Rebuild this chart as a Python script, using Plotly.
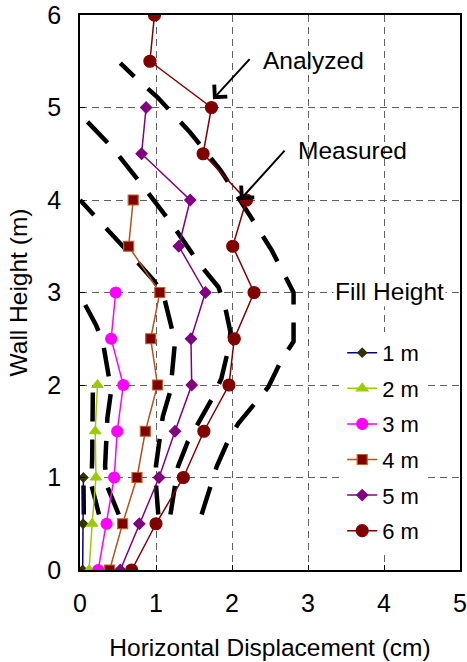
import plotly.graph_objects as go

# ---- Analyzed (lines + markers) ----
fill_labels = ["1 m", "2 m", "3 m", "4 m", "5 m", "6 m"]

h1 = [0, 0.5, 1.0]
x1 = [0.035, 0.04, 0.045]
h2 = [0, 0.5, 1.0, 1.5, 2.0]
x2 = [0.12, 0.16, 0.21, 0.20, 0.23]
h3 = [0, 0.5, 1.0, 1.5, 2.0, 2.5, 3.0]
x3 = [0.24, 0.35, 0.45, 0.49, 0.57, 0.41, 0.47]
h4 = [0, 0.5, 1.0, 1.5, 2.0, 2.5, 3.0, 3.5, 4.0]
x4 = [0.39, 0.56, 0.75, 0.86, 1.02, 0.93, 1.05, 0.64, 0.70]
h5 = [0, 0.5, 1.0, 1.5, 2.0, 2.5, 3.0, 3.5, 4.0, 4.5, 5.0]
x5 = [0.53, 0.78, 1.04, 1.25, 1.47, 1.46, 1.65, 1.30, 1.45, 0.81, 0.87]
h6 = [0, 0.5, 1.0, 1.5, 2.0, 2.5, 3.0, 3.5, 4.0, 4.5, 5.0, 5.5, 6.0]
x6 = [0.68, 1.00, 1.36, 1.63, 1.96, 2.03, 2.29, 2.01, 2.19, 1.62, 1.73, 0.92, 0.98]

# ---- Measured (thick dashed lines) ----
m1_y = [0.6, 0.92, 1.0]
m1_x = [0.05, 0.05, 0.045]
m2_y = [0.6, 0.92, 1.2, 1.6, 2.0]
m2_x = [0.25, 0.15, 0.16, 0.16, 0.17]
m3_y = [0.6, 0.9, 1.12, 1.64, 1.94, 2.47, 2.65, 2.97]
m3_x = [0.51, 0.36, 0.33, 0.36, 0.41, 0.30, 0.21, 0.0]
m4_y = [0.6, 0.92, 1.13, 1.66, 1.94, 2.16, 2.47, 2.97, 3.13, 3.38, 3.76, 4.0]
m4_x = [1.03, 1.00, 1.00, 1.09, 1.19, 1.22, 1.25, 1.10, 0.97, 0.70, 0.26, 0.0]
m5_y = [0.6, 0.92, 1.12, 1.39, 1.61, 1.87, 2.07, 2.38, 2.57, 2.88, 3.06, 3.31, 3.74, 4.16, 4.57, 4.93]
m5_x = [1.19, 1.25, 1.29, 1.42, 1.57, 1.75, 1.86, 1.95, 1.98, 1.90, 1.82, 1.57, 1.21, 0.82, 0.42, 0.0]
m6_y = [0.6, 0.92, 1.12, 1.40, 1.58, 1.82, 1.98, 2.27, 2.47, 3.0, 3.24, 3.46, 3.89, 4.32, 4.73, 5.11, 5.33, 5.48]
m6_x = [1.60, 1.73, 1.80, 1.95, 2.08, 2.32, 2.48, 2.65, 2.81, 2.81, 2.65, 2.52, 2.19, 1.85, 1.45, 1.02, 0.72, 0.53]

x_ticks = [0, 1, 2, 3, 4, 5]
y_ticks = [0, 1, 2, 3, 4, 5, 6]

FONT = "Liberation Sans, Arial, sans-serif"

fig = go.Figure()

for mx, my in [(m1_x, m1_y), (m2_x, m2_y), (m3_x, m3_y), (m4_x, m4_y), (m5_x, m5_y), (m6_x, m6_y)]:
    fig.add_trace(go.Scatter(x=mx, y=my, mode="lines", showlegend=False,
                             line=dict(color="black", width=4.5, dash="29px,18px"),
                             hoverinfo="skip"))

styles = [
    dict(line="#000080", mfill="#333300", medge="#333300", sym="diamond", size=7),
    dict(line="#99CC00", mfill="#99CC00", medge="#99CC00", sym="triangle-up", size=10),
    dict(line="#FF00FF", mfill="#FF00FF", medge="#FF00FF", sym="circle", size=11),
    dict(line="#B5521F", mfill="#800000", medge="#C0602A", sym="square", size=10),
    dict(line="#800080", mfill="#800080", medge="#800080", sym="diamond", size=8.5),
    dict(line="#800000", mfill="#800000", medge="#800000", sym="circle", size=12),
]
series = [(x1, h1), (x2, h2), (x3, h3), (x4, h4), (x5, h5), (x6, h6)]
for lab, (sx, sy), st in zip(fill_labels, series, styles):
    fig.add_trace(go.Scatter(
        x=sx, y=sy, mode="lines+markers", name=lab, legendgroup=lab,
        line=dict(color=st["line"], width=1.5),
        marker=dict(symbol=st["sym"], size=st["size"], color=st["mfill"],
                    line=dict(color=st["medge"], width=1.2)),
    ))

axis_common = dict(
    showline=True, linecolor="black", linewidth=1.5, mirror=True,
    showgrid=True, gridcolor="#606060", gridwidth=1, griddash="7px,5px",
    ticks="inside", ticklen=5, tickcolor="black", zeroline=False,
    automargin=False, ticklabeloverflow="allow",
    tickfont=dict(family=FONT, size=25, color="black"),
)

fig.update_layout(
    width=467, height=662,
    margin=dict(l=80, r=7, t=15, b=92),
    paper_bgcolor="white", plot_bgcolor="white",
    font=dict(family=FONT, color="black"),
    xaxis=dict(range=[0, 5], tickvals=x_ticks, ticklabelstandoff=10,
               title=dict(text="Horizontal Displacement (cm)", font=dict(family=FONT, size=24.5), standoff=23),
               **axis_common),
    yaxis=dict(range=[0, 6], tickvals=y_ticks, ticklabelstandoff=12,
               title=dict(text="Wall Height (m)", font=dict(family=FONT, size=24.5), standoff=13),
               **axis_common),
    legend=dict(x=0.69, y=0.429, xanchor="left", yanchor="top",
                bgcolor="white", borderwidth=0, traceorder="grouped",
                tracegroupgap=4,
                font=dict(family=FONT, size=22, color="black")),
    annotations=[
        dict(x=1.75, y=5.09, ax=2.25, ay=5.54, xref="x", yref="y", axref="x", ayref="y",
             showarrow=True, arrowhead=4, arrowsize=1.7, arrowwidth=2, arrowcolor="black", text=""),
        dict(x=3.07, y=5.51, xref="x", yref="y", text="Analyzed", showarrow=False,
             font=dict(family=FONT, size=24.5, color="black")),
        dict(x=2.105, y=4.0, ax=2.71, ay=4.55, xref="x", yref="y", axref="x", ayref="y",
             showarrow=True, arrowhead=4, arrowsize=1.7, arrowwidth=2, arrowcolor="black", text=""),
        dict(x=3.59, y=4.54, xref="x", yref="y", text="Measured", showarrow=False,
             font=dict(family=FONT, size=24.5, color="black")),
        dict(x=4.07, y=3.01, xref="x", yref="y", text="Fill Height", showarrow=False,
             bgcolor="white", font=dict(family=FONT, size=24.5, color="black")),
    ],
)

# remove the browser's default 8px body margin so the figure sits at the page origin
fig.write_html("out.html", config={"displayModeBar": False},
               post_script="document.body.style.margin='0px';")
